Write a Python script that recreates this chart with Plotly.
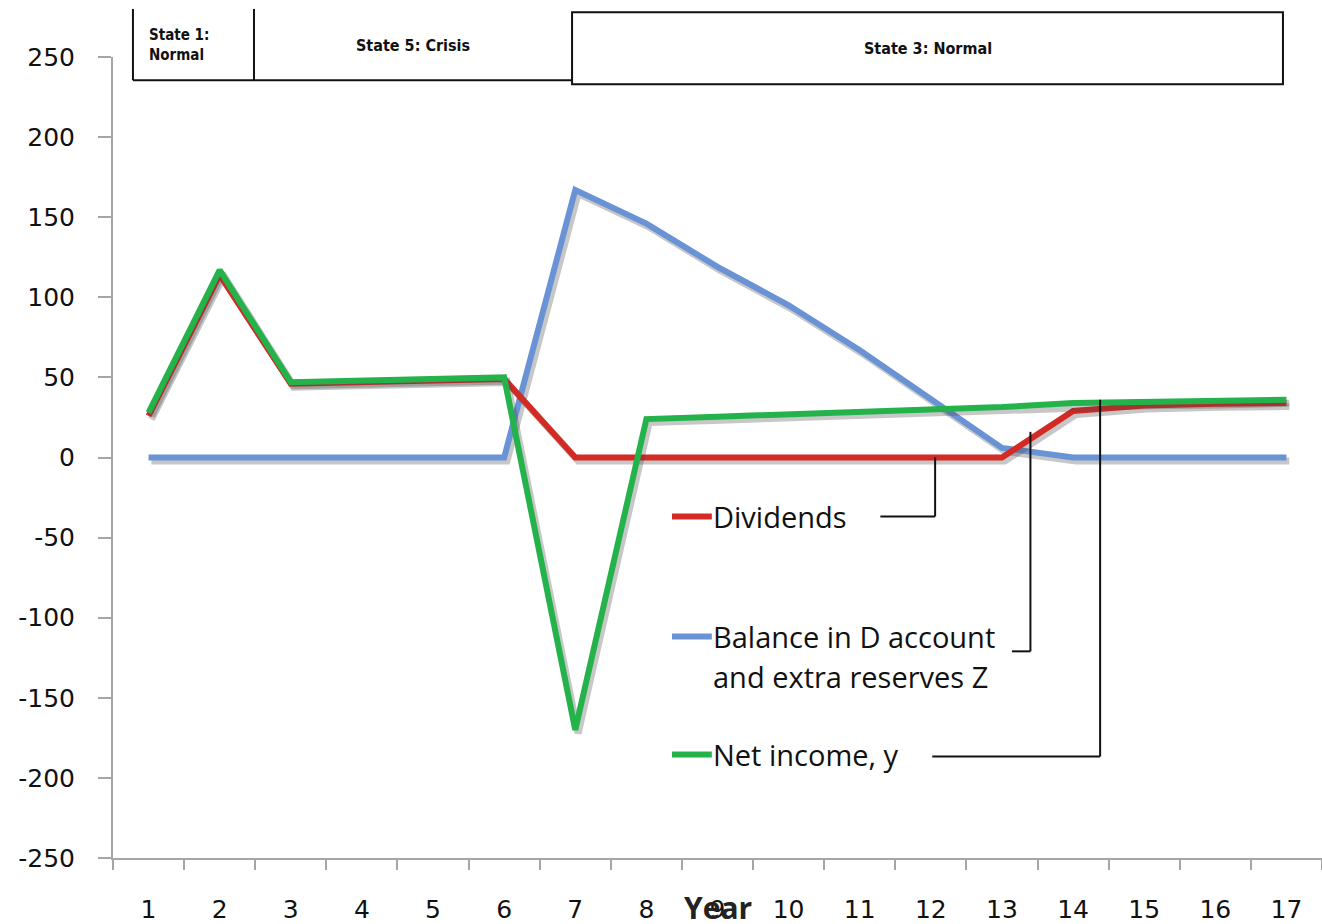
import plotly.graph_objects as go

# Simulation years and series values
years = list(range(1, 18))
dividends = [26, 114, 46, 47, 48, 49, 0, 0, 0, 0, 0, 0, 0, 29, 32.5, 33.5, 34]
balance_dz = [0, 0, 0, 0, 0, 0, 167, 146, 119, 95, 67, 36, 6, 0, 0, 0, 0]
net_income = [28, 117, 47, 48, 49, 50, -170, 24, 25.5, 27, 28.5, 30, 31.5, 34, 34.5, 35, 36]

y_ticks = list(range(-250, 251, 50))
y_tick_text = [str(v) for v in y_ticks]

series_names = ["Balance in D account", "Dividends", "Net income, y"]
series_colors = ["#6A93D6", "#D42A25", "#24B24B"]
series_values = [balance_dz, dividends, net_income]

FONT_AXIS = "DejaVu Sans"
FONT_TEXT = "Open Sans"

fig = go.Figure()

# soft drop shadow under each line, then the line itself
for vals, col, name in zip(series_values, series_colors, series_names):
    fig.add_trace(go.Scatter(
        x=[v + 0.04 for v in years], y=[v - 2.2 for v in vals],
        mode="lines", line=dict(color="rgba(70,70,70,0.30)", width=7),
        hoverinfo="skip", showlegend=False))
    fig.add_trace(go.Scatter(
        x=years, y=vals, mode="lines", name=name,
        line=dict(color=col, width=6), showlegend=False))

shapes = []
annotations = []

# legend swatches and labels inside the plot
legend_font = dict(family=FONT_TEXT, size=29, color="#111")
legend_rows = [
    ("Dividends", series_colors[1], -36.8),
    ("Balance in D account", series_colors[0], -111.7),
    ("Net income, y", series_colors[2], -185.4),
]
for label, col, yv in legend_rows:
    shapes.append(dict(type="line", xref="x", yref="y", x0=8.36, x1=8.92, y0=yv, y1=yv,
                       line=dict(color=col, width=6)))
    annotations.append(dict(xref="x", yref="y", x=8.91, y=yv, text=label, showarrow=False,
                            xanchor="left", yanchor="middle", font=legend_font))
annotations.append(dict(xref="x", yref="y", x=8.91, y=-136.5, text="and extra reserves Z",
                        showarrow=False, xanchor="left", yanchor="middle", font=legend_font))

# callout connectors from labels to lines
callouts = [
    (11.29, 12.06, -36.8, 0),
    (13.14, 13.40, -121.0, 16),
    (12.02, 14.38, -186.6, 36),
]
for xa, xb, yl, yt in callouts:
    shapes.append(dict(type="line", xref="x", yref="y", x0=xa, x1=xb, y0=yl, y1=yl,
                       line=dict(color="#111", width=2)))
    shapes.append(dict(type="line", xref="x", yref="y", x0=xb, x1=xb, y0=yl, y1=yt,
                       line=dict(color="#111", width=2)))

# state boxes above the plot
box_line = dict(color="#111", width=2)
shapes += [
    dict(type="line", xref="paper", yref="paper", x0=0.0165, x1=0.0165, y0=0.971, y1=1.06, line=box_line),
    dict(type="line", xref="paper", yref="paper", x0=0.1166, x1=0.1166, y0=0.971, y1=1.06, line=box_line),
    dict(type="line", xref="paper", yref="paper", x0=0.0165, x1=0.3797, y0=0.971, y1=0.971, line=box_line),
    dict(type="rect", xref="paper", yref="paper", x0=0.3797, x1=0.9677, y0=0.966, y1=1.056, line=box_line),
]
state_font = dict(family="DejaVu Sans Condensed, DejaVu Sans", size=16, color="#111")
annotations += [
    dict(xref="paper", yref="paper", x=0.0285, y=1.015, text="<b>State 1:<br>Normal</b>", showarrow=False,
         xanchor="left", yanchor="middle", align="left", font=dict(state_font, size=15)),
    dict(xref="paper", yref="paper", x=0.248, y=1.0145, text="<b>State 5: Crisis</b>", showarrow=False,
         xanchor="center", yanchor="middle", font=state_font),
    dict(xref="paper", yref="paper", x=0.674, y=1.011, text="<b>State 3: Normal</b>", showarrow=False,
         xanchor="center", yanchor="middle", font=state_font),
]

# x-axis title
annotations.append(dict(xref="paper", yref="paper", x=0.5, y=-0.0615, text="<b>Year</b>", showarrow=False,
                        xanchor="center", yanchor="middle",
                        font=dict(family=FONT_TEXT, size=30, color="#222")))

fig.update_layout(
    width=1322, height=924,
    margin=dict(l=113, r=0, t=57, b=66),
    paper_bgcolor="white", plot_bgcolor="white",
    shapes=shapes, annotations=annotations,
    xaxis=dict(
        range=[0.5, 17.5], tickmode="array", tickvals=years, ticktext=[str(y) for y in years],
        ticks="outside", ticklen=0, tickcolor="white", ticklabelstandoff=28,
        showgrid=False, zeroline=False,
        showline=True, linecolor="#A6A6A6", linewidth=2,
        tickfont=dict(family=FONT_AXIS, size=25, color="#111"),
        minor=dict(tickmode="linear", tick0=0.5, dtick=1, ticks="outside", ticklen=10,
                   tickcolor="#A6A6A6", tickwidth=2, showgrid=False),
    ),
    yaxis=dict(
        range=[-250, 250], tickmode="array", tickvals=y_ticks, ticktext=y_tick_text,
        ticks="outside", ticklen=13, tickcolor="#A6A6A6", tickwidth=2,
        ticklabelstandoff=18,
        showgrid=False, zeroline=False,
        showline=True, linecolor="#A6A6A6", linewidth=2,
        tickfont=dict(family=FONT_AXIS, size=25, color="#111"),
    ),
)

fig.write_html("out.html")
